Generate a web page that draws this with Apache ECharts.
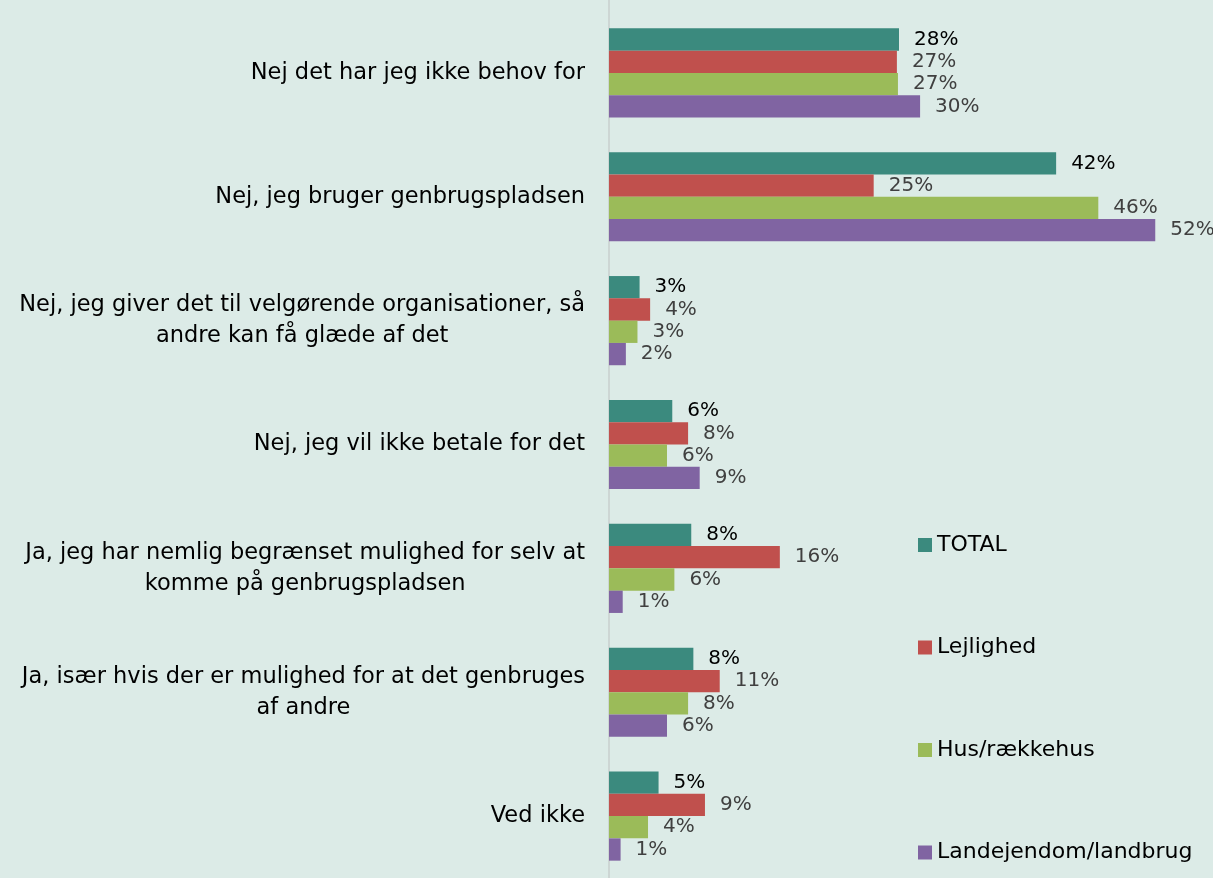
<!DOCTYPE html>
<html>
<head>
<meta charset="utf-8">
<title>Genbrug</title>
<script src="https://cdn.jsdelivr.net/npm/echarts@6/dist/echarts.min.js"></script>
<style>
    html, body { margin: 0; padding: 0; background: #dcebe7; }
    #main { width: 1213px; height: 878px; }
</style>
</head>
<body>
<div id="main"></div>
<script type="text/javascript">
    var categories = [
        'Nej det har jeg ikke behov for',
        'Nej, jeg bruger genbrugspladsen',
        'Nej, jeg giver det til velgørende organisationer, så\nandre kan få glæde af det',
        'Nej, jeg vil ikke betale for det',
        'Ja, jeg har nemlig begrænset mulighed for selv at\nkomme på genbrugspladsen',
        'Ja, især hvis der er mulighed for at det genbruges\naf andre',
        'Ved ikke'
    ];
    var seriesNames = ['TOTAL', 'Lejlighed', 'Hus/rækkehus', 'Landejendom/landbrug'];
    var total = [27.5, 42.4, 2.9, 6.0, 7.8, 8.0, 4.7];
    var lejlighed = [27.3, 25.1, 3.9, 7.5, 16.2, 10.5, 9.1];
    var hus = [27.4, 46.4, 2.7, 5.5, 6.2, 7.5, 3.7];
    var landbrug = [29.5, 51.8, 1.6, 8.6, 1.3, 5.5, 1.1];
    var colors = ['#3b8a7e', '#c0504d', '#9bbb59', '#8064a2'];

    var myChart = echarts.init(document.getElementById('main'));
    var font = 'DejaVu Sans';

    function makeSeries(name, data, idx) {
        return {
            name: name,
            type: 'bar',
            data: data,
            barGap: '0%',
            barCategoryGap: '28%',
            itemStyle: { color: colors[idx] },
            label: {
                show: true,
                position: 'right',
                distance: 15,
                fontFamily: font,
                fontSize: 20,
                color: idx === 0 ? '#000000' : '#404040',
                formatter: function (p) { return Math.round(p.value) + '%'; }
            }
        };
    }

    var option = {
        backgroundColor: '#dcebe7',
        animation: false,
        grid: [
            { left: 609, top: 11, width: 580, height: 872 },
            // full-height grid, only for the vertical axis line
            { left: 609, top: 0, width: 580, height: 878 }
        ],
        legend: {
            orient: 'vertical',
            left: 918,
            top: 533,
            padding: 0,
            icon: 'rect',
            itemWidth: 14,
            itemHeight: 14,
            itemGap: 78.5,
            textStyle: { fontFamily: font, fontSize: 22, lineHeight: 24, color: '#000000' },
            data: seriesNames
        },
        xAxis: [
            { type: 'value', min: 0, max: 55, show: false },
            { type: 'value', gridIndex: 1, min: 0, max: 1, show: false }
        ],
        yAxis: [
            {
                type: 'category',
                inverse: true,
                data: categories,
                axisLine: { show: false },
                axisTick: { show: false },
                axisLabel: {
                    margin: 24,
                    formatter: function (v) {
                        return v.split('\n').map(function (s) { return '{c|' + s + '}'; }).join('\n');
                    },
                    rich: {
                        c: { fontFamily: font, fontSize: 22.5, color: '#000000', align: 'center', lineHeight: 31 }
                    }
                }
            },
            {
                type: 'value',
                gridIndex: 1,
                min: 0,
                max: 1,
                axisLine: { show: true, lineStyle: { color: '#cdd6d4', width: 2 } },
                axisTick: { show: false },
                axisLabel: { show: false },
                splitLine: { show: false }
            }
        ],
        series: [
            makeSeries(seriesNames[0], total, 0),
            makeSeries(seriesNames[1], lejlighed, 1),
            makeSeries(seriesNames[2], hus, 2),
            makeSeries(seriesNames[3], landbrug, 3)
        ]
    };

    myChart.setOption(option);
</script>
</body>
</html>
